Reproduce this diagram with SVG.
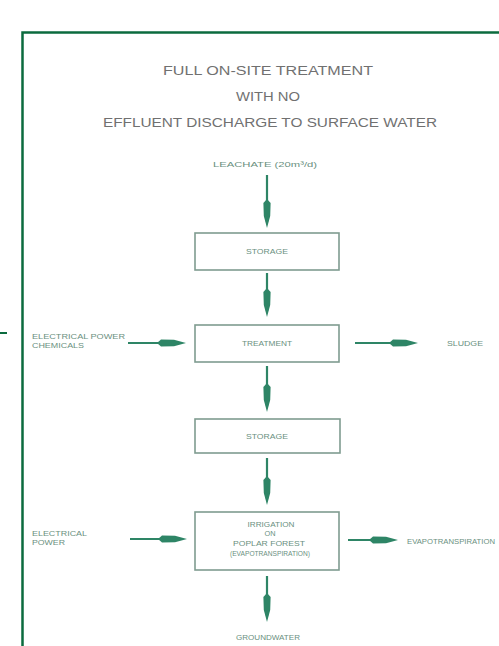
<svg xmlns="http://www.w3.org/2000/svg" width="499" height="646" viewBox="0 0 499 646">
<style>
.title{font-family:"Liberation Sans","DejaVu Sans",sans-serif;font-size:12.5px;fill:#707070;text-anchor:middle;dominant-baseline:central}
.lbl{font-family:"Liberation Sans","DejaVu Sans",sans-serif;font-size:7.5px;fill:#6a9080;dominant-baseline:central}
.mid{text-anchor:middle}
.box{fill:#ffffff;stroke:#7f9c90;stroke-width:1.6}
.con{stroke:#2e8566;stroke-width:2.2;fill:none;marker-end:url(#dart)}
</style>
<defs>
<marker id="dart" markerUnits="userSpaceOnUse" viewBox="-6 -5 32 10" refX="19" refY="0" markerWidth="32" markerHeight="10" orient="auto">
<path d="M-4,0 L0,-3.6 L13,-3.2 L25,0 L13,3.2 L0,3.6 Z" fill="#2e8566"/>
</marker>
</defs>
<rect width="499" height="646" fill="#ffffff"/>
<g id="frame">
<path d="M22.5,646 V32.5 H499" fill="none" stroke="#0b6b3e" stroke-width="2.5"/>
<path d="M0,333 H7" stroke="#0b6b3e" stroke-width="2"/>
</g>
<g id="title">
<text class="title" x="268" y="71" textLength="210" lengthAdjust="spacingAndGlyphs">FULL ON-SITE TREATMENT</text>
<text class="title" x="268" y="97" textLength="64" lengthAdjust="spacingAndGlyphs">WITH NO</text>
<text class="title" x="270" y="123" textLength="334" lengthAdjust="spacingAndGlyphs">EFFLUENT DISCHARGE TO SURFACE WATER</text>
</g>
<g id="connectors">
<line class="con" x1="267" y1="175" x2="267" y2="222"/>
<line class="con" x1="267" y1="273" x2="267" y2="311"/>
<line class="con" x1="267" y1="366" x2="267" y2="406"/>
<line class="con" x1="267" y1="458" x2="267" y2="499"/>
<line class="con" x1="267" y1="576" x2="267" y2="616"/>
<line class="con" x1="128" y1="343" x2="180" y2="343"/>
<line class="con" x1="355" y1="343" x2="412" y2="343"/>
<line class="con" x1="130" y1="539" x2="181" y2="539"/>
<line class="con" x1="348" y1="540" x2="392" y2="540"/>
</g>
<g id="leachate">
<text class="lbl mid" x="265" y="164" textLength="104" lengthAdjust="spacingAndGlyphs">LEACHATE (20m³/d)</text>
</g>
<g id="storage1">
<rect class="box" x="195" y="233" width="144" height="37"/>
<text class="lbl mid" x="267" y="251" textLength="42" lengthAdjust="spacingAndGlyphs">STORAGE</text>
</g>
<g id="treatment">
<rect class="box" x="195" y="325" width="144" height="37"/>
<text class="lbl mid" x="267" y="343" textLength="50" lengthAdjust="spacingAndGlyphs">TREATMENT</text>
</g>
<g id="storage2">
<rect class="box" x="195" y="419" width="145" height="34"/>
<text class="lbl mid" x="267" y="436" textLength="42" lengthAdjust="spacingAndGlyphs">STORAGE</text>
</g>
<g id="irrigation">
<rect class="box" x="195" y="512" width="144" height="58"/>
<text class="lbl mid" x="271" y="524" textLength="47" lengthAdjust="spacingAndGlyphs">IRRIGATION</text>
<text class="lbl mid" x="270" y="533" textLength="11" lengthAdjust="spacingAndGlyphs">ON</text>
<text class="lbl mid" x="269" y="543" textLength="72" lengthAdjust="spacingAndGlyphs">POPLAR FOREST</text>
<text class="lbl mid" x="270" y="553" textLength="80" lengthAdjust="spacingAndGlyphs">(EVAPOTRANSPIRATION)</text>
</g>
<g id="power-chemicals">
<text class="lbl" x="32" y="336" textLength="93" lengthAdjust="spacingAndGlyphs">ELECTRICAL POWER</text>
<text class="lbl" x="32" y="345" textLength="52" lengthAdjust="spacingAndGlyphs">CHEMICALS</text>
</g>
<g id="sludge">
<text class="lbl" x="447" y="343" textLength="36" lengthAdjust="spacingAndGlyphs">SLUDGE</text>
</g>
<g id="power">
<text class="lbl" x="32" y="533" textLength="55" lengthAdjust="spacingAndGlyphs">ELECTRICAL</text>
<text class="lbl" x="32" y="542" textLength="33" lengthAdjust="spacingAndGlyphs">POWER</text>
</g>
<g id="evapotranspiration">
<text class="lbl" x="407" y="541" textLength="88" lengthAdjust="spacingAndGlyphs">EVAPOTRANSPIRATION</text>
</g>
<g id="groundwater">
<text class="lbl mid" x="268" y="637" textLength="64" lengthAdjust="spacingAndGlyphs">GROUNDWATER</text>
</g>
</svg>
